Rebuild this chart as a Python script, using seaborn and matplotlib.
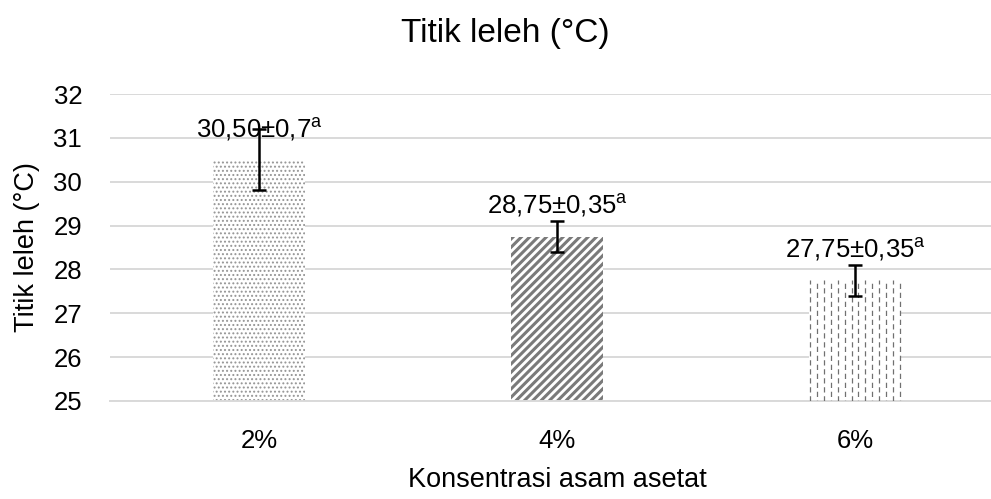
import numpy as np
import pandas as pd
import matplotlib
matplotlib.use("Agg")
import matplotlib.pyplot as plt
import seaborn as sns

# data
konsentrasi = ["2%", "4%", "6%"]
titik_leleh = [30.50, 28.75, 27.75]
sd = [0.70, 0.35, 0.35]
label_nilai = ["30,50±0,7", "28,75±0,35", "27,75±0,35"]
notasi = ["a", "a", "a"]
y_ticks = [25, 26, 27, 28, 29, 30, 31, 32]

df = pd.DataFrame({"Konsentrasi": konsentrasi, "Titik": titik_leleh, "sd": sd})

sns.set_theme(style="white")
plt.rcParams["font.family"] = ["Liberation Sans", "DejaVu Sans"]
plt.rcParams["mathtext.fontset"] = "custom"
plt.rcParams["mathtext.rm"] = "Liberation Sans"
plt.rcParams["hatch.linewidth"] = 1.0

fig = plt.figure(figsize=(9.91, 4.99), dpi=100)
W, H = 991, 499
# plot area runs a bit past the right edge, like the source
ax = fig.add_axes([110 / W, 1 - 401 / H, (1004 - 110) / W, (401 - 94) / H])

sns.barplot(data=df, x="Konsentrasi", y="Titik", ax=ax, width=0.31,
            color="white", errorbar=None, zorder=2)
ax.set_ylim(25, 32)
ax.set_xlim(-0.5, 2.5)

patches = ax.patches
# bar 1: fine dots
patches[0].set_hatch("....")
patches[0].set_edgecolor("#959595")
patches[0].set_linewidth(0)
# bar 2: diagonal stripes
patches[1].set_hatch("////")
patches[1].set_edgecolor("#7a7a7a")
patches[1].set_linewidth(0)
if hasattr(patches[1], "set_hatch_linewidth"):
    patches[1].set_hatch_linewidth(2.2)
    patches[0].set_hatch_linewidth(0.9)
# bar 3: dashed vertical lines drawn inside the bar
p3 = patches[2]
p3.set_edgecolor("white")
p3.set_linewidth(0)
x0, bw = p3.get_x(), p3.get_width()
xs = np.linspace(x0 + 0.004, x0 + bw - 0.004, 14)
for i, xv in enumerate(xs):
    off = 0 if i % 2 == 0 else 3.6
    ax.plot([xv, xv], [25, titik_leleh[2]], color="#707070", lw=0.9,
            linestyle=(off, (4.2, 3.0)), zorder=3, solid_capstyle="butt",
            dash_capstyle="butt")

ax.errorbar(x=np.arange(len(konsentrasi)), y=titik_leleh, yerr=sd, fmt="none",
            ecolor="black", elinewidth=1.8, capsize=4.7, capthick=1.8, zorder=4)

for i, (v, lab, sup) in enumerate(zip(titik_leleh, label_nilai, notasi)):
    ax.annotate(lab + "$^{\\mathrm{" + sup + "}}$", xy=(i, v), xytext=(0, 16.5),
                textcoords="offset points", ha="center", va="baseline",
                fontsize=18.5, color="black", zorder=5)

ax.set_yticks(y_ticks)
ax.yaxis.grid(True, color="#d9d9d9", linewidth=1.4)
ax.xaxis.grid(False)
ax.set_axisbelow(True)
for s in ["top", "right", "left"]:
    ax.spines[s].set_visible(False)
ax.spines["bottom"].set_color("#d9d9d9")
ax.spines["bottom"].set_linewidth(1.4)
ax.tick_params(axis="both", length=0, labelsize=18.5, labelcolor="black")
ax.tick_params(axis="y", pad=20)
ax.tick_params(axis="x", pad=20)

ax.set_xlabel("Konsentrasi asam asetat", fontsize=19.5, labelpad=10, color="black")
ax.set_ylabel("Titik leleh (°C)", fontsize=19.5, labelpad=10, color="black")

fig.text(505 / W, 1 - 42 / H, "Titik leleh (°C)", ha="center", va="baseline",
         fontsize=24, color="black")

fig.savefig("out.png", dpi=100)
